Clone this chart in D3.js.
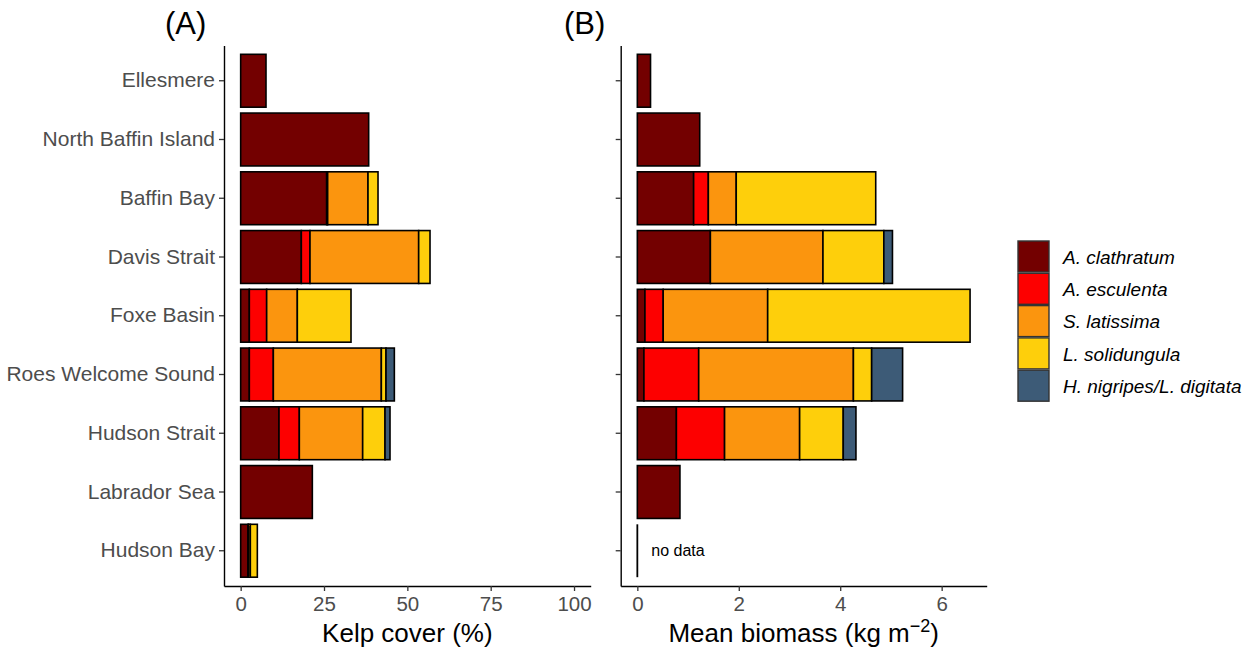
<!DOCTYPE html>
<html>
<head>
<meta charset="utf-8">
<script src="https://cdn.jsdelivr.net/npm/d3@7"></script>
<style>
  body { margin: 0; background: #fff; }
  svg text { font-family: "Liberation Sans", Arial, sans-serif; }
</style>
</head>
<body>
<svg id="chart" width="1250" height="653"></svg>
<script>
// regions, top to bottom
let regions = ["Ellesmere", "North Baffin Island", "Baffin Bay", "Davis Strait", "Foxe Basin",
  "Roes Welcome Sound", "Hudson Strait", "Labrador Sea", "Hudson Bay"];
let species = ["A. clathratum", "A. esculenta", "S. latissima", "L. solidungula", "H. nigripes/L. digitata"];
let colors = ["#730000", "#fd0000", "#fb950e", "#fecf0b", "#3d5b77"];

// kelp cover (%) per species, in region order
let coverClathratum = [7.6, 38.4, 25.8, 18.2, 2.6, 2.6, 11.5, 21.5, 2.2];
let coverEsculenta  = [0, 0, 0.3, 2.6, 5.2, 7.2, 6.1, 0, 0.2];
let coverLatissima  = [0, 0, 12.1, 32.6, 9.2, 32.4, 19.0, 0, 0.5];
let coverSolidungula = [0, 0, 3.0, 3.4, 16.1, 1.4, 6.7, 0, 2.1];
let coverNigripes   = [0, 0, 0, 0, 0, 2.5, 1.5, 0, 0];

// mean biomass (kg m-2) per species, in region order
let bioClathratum = [0.26, 1.23, 1.11, 1.44, 0.15, 0.13, 0.77, 0.84, 0];
let bioEsculenta  = [0, 0, 0.29, 0, 0.36, 1.08, 0.95, 0, 0];
let bioLatissima  = [0, 0, 0.55, 2.22, 2.06, 3.05, 1.48, 0, 0];
let bioSolidungula = [0, 0, 2.75, 1.20, 3.99, 0.36, 0.86, 0, 0];
let bioNigripes   = [0, 0, 0, 0.17, 0, 0.61, 0.25, 0, 0];
let noDataB = ["Hudson Bay"];

let ticksA = [0, 25, 50, 75, 100];
let ticksB = [0, 2, 4, 6];

function buildRows(lists) {
  return regions.map((r, i) => {
    let row = { region: r };
    species.forEach((s, j) => { row[s] = lists[j][i]; });
    return row;
  });
}

let rowsA = buildRows([coverClathratum, coverEsculenta, coverLatissima, coverSolidungula, coverNigripes]);
let rowsB = buildRows([bioClathratum, bioEsculenta, bioLatissima, bioSolidungula, bioNigripes]);

let svg = d3.select("#chart");
let color = d3.scaleOrdinal().domain(species).range(colors);

let y = d3.scaleBand().domain(regions).range([45.5, 586]).paddingInner(0.1).paddingOuter(0.15);

function panel(rows, x, ticks, showLabels, noData) {
  let g = svg.append("g");
  let stacked = d3.stack().keys(species)(rows);

  g.selectAll("g.layer")
    .data(stacked)
    .join("g")
    .attr("class", "layer")
    .attr("fill", d => color(d.key))
    .selectAll("rect")
    .data(d => d.filter(p => p[1] - p[0] > 0))
    .join("rect")
    .attr("x", d => x(d[0]))
    .attr("width", d => x(d[1]) - x(d[0]))
    .attr("y", d => y(d.data.region))
    .attr("height", y.bandwidth())
    .attr("stroke", "#000")
    .attr("stroke-width", 1.6);

  // empty bars collapse to their outline at zero
  g.selectAll("line.empty")
    .data(noData)
    .join("line")
    .attr("class", "empty")
    .attr("x1", x(0)).attr("x2", x(0))
    .attr("y1", d => y(d)).attr("y2", d => y(d) + y.bandwidth())
    .attr("stroke", "#000")
    .attr("stroke-width", 1.8);

  let yAxis = d3.axisLeft(y).tickSize(5).tickSizeOuter(0).tickPadding(4);
  if (!showLabels) yAxis.tickFormat("");
  let ya = g.append("g").attr("transform", `translate(${x.range()[0]},0)`).call(yAxis);

  let xa = g.append("g").attr("transform", `translate(0,${y.range()[1]})`)
    .call(d3.axisBottom(x).tickValues(ticks).tickSize(5).tickSizeOuter(0).tickPadding(5));

  [ya, xa].forEach(a => {
    a.select(".domain").attr("stroke", "#000").attr("stroke-width", 1.4);
    a.selectAll(".tick line").attr("stroke", "#333").attr("stroke-width", 1.3);
    a.selectAll(".tick text").attr("fill", "#4d4d4d").style("font-size", "20.5px")
      .style("font-family", '"Liberation Sans", Arial, sans-serif');
  });
  ya.selectAll(".tick text").style("font-size", "21px");
  return g;
}

let xA = d3.scaleLinear().domain([-5, 105]).range([224, 590.7]);
let xB = d3.scaleLinear().domain([-0.328, 6.888]).range([620.7, 986.7]);

panel(rowsA, xA, ticksA, true, []);
panel(rowsB, xB, ticksB, false, noDataB);

// "no data" note
svg.append("text")
  .attr("x", xB(0) + 14)
  .attr("y", y("Hudson Bay") + y.bandwidth() / 2 + 5)
  .style("font-size", "16px")
  .attr("fill", "#000")
  .text("no data");

// panel titles
svg.append("text").attr("x", 165).attr("y", 34).style("font-size", "31px").text("(A)");
svg.append("text").attr("x", 564).attr("y", 34).style("font-size", "31px").text("(B)");

// axis titles
svg.append("text").attr("x", (xA.range()[0] + xA.range()[1]) / 2).attr("y", 642)
  .attr("text-anchor", "middle").style("font-size", "26px").text("Kelp cover (%)");

let tb = svg.append("text").attr("x", (xB.range()[0] + xB.range()[1]) / 2).attr("y", 642)
  .attr("text-anchor", "middle").style("font-size", "26px");
tb.append("tspan").text("Mean biomass (kg m");
tb.append("tspan").attr("dy", -10).style("font-size", "18px").text("\u22122");
tb.append("tspan").attr("dy", 10).text(")");

// legend
let legend = svg.append("g").attr("transform", "translate(1018,241)");
let items = legend.selectAll("g").data(species).join("g")
  .attr("transform", (d, i) => `translate(0,${i * 32.3})`);
items.append("rect")
  .attr("width", 31).attr("height", 31)
  .attr("fill", d => color(d))
  .attr("stroke", "#333").attr("stroke-width", 1.4);
items.append("text")
  .attr("x", 45).attr("y", 16).attr("dy", "0.35em")
  .style("font-size", "19px").style("font-style", "italic")
  .attr("fill", "#000")
  .text(d => d);
</script>
</body>
</html>
